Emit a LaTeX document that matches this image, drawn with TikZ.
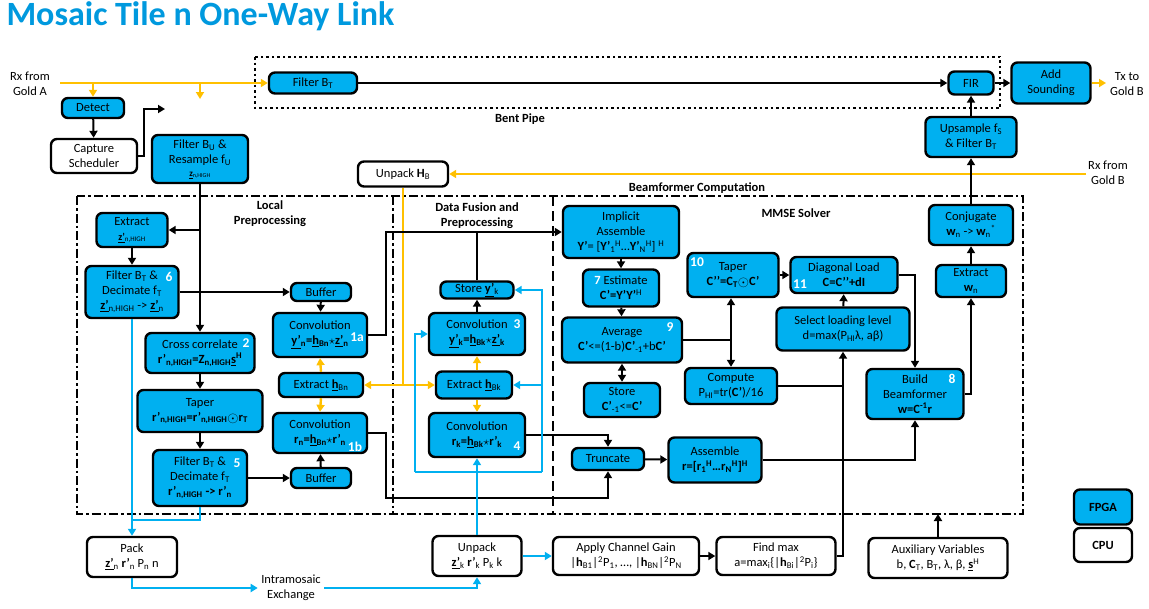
\documentclass[tikz,border=0pt]{standalone}
\usepackage{fontspec}
\setmainfont{Carlito}
\usetikzlibrary{arrows.meta}
\definecolor{fpgablue}{RGB}{0,176,240}
\definecolor{goldline}{RGB}{255,192,0}
\definecolor{titleblue}{RGB}{0,153,222}
\newcommand{\dsub}[1]{\textsubscript{#1}}
\newcommand{\usup}[1]{\textsuperscript{#1}}
\newcommand{\ubf}[1]{\underline{\textbf{#1}}}
\newcommand{\hadam}{\smash{\raisebox{-1pt}{\fontsize{15}{15}\selectfont$\odot$}}}

\begin{document}
\begin{tikzpicture}[x=1pt,y=-1pt,
  every node/.style={font=\fontsize{12.5}{15}\selectfont},
  box/.style={draw, line width=2.4pt, rounded corners=6pt, align=center, inner sep=0pt},
  fpga/.style={box, fill=fpgablue},
  cpu/.style={box, fill=white},
  sz/.style 2 args={minimum width=#1pt, minimum height=#2pt},
  tip/.style={-{Triangle[length=7pt,width=8pt]}},
  conn/.style={line width=2pt, tip},
  wire/.style={line width=2pt},
  yconn/.style={line width=2.4pt, goldline, tip},
  ywire/.style={line width=2.4pt, goldline},
  bconn/.style={line width=2.4pt, fpgablue, tip},
  bwire/.style={line width=2.4pt, fpgablue},
  num/.style={text=white, font=\fontsize{13.5}{14}\selectfont\bfseries},
  grp/.style={font=\fontsize{12.5}{15}\selectfont\bfseries, align=center},
  dashdot/.style={line width=2.5pt, dash pattern=on 9pt off 3pt on 2.5pt off 3pt},
]
\useasboundingbox (0,0) rectangle (1149,608);

% title
\node[anchor=west, text=titleblue, font=\fontsize{34}{36}\selectfont\bfseries] (title) at (3,16) {Mosaic Tile n One-Way Link};

% group frames
\draw[line width=2.5pt, dash pattern=on 2.5pt off 3pt] (255,57) rectangle (1000,108);
\node[grp] (bentlbl) at (520,119) {Bent Pipe};
\draw[dashdot] (77,196) rectangle (1023,514);
\draw[dashdot] (393,196) -- (393,514);
\draw[line width=2.5pt, dash pattern=on 10pt off 5pt] (553,196) -- (553,514);
\node[grp] (locallbl) at (270,214) {Local\\Preprocessing};
\node[grp] (fusionlbl) at (477,216) {Data Fusion and\\Preprocessing};
\node[grp] (bfclbl) at (697,188) {Beamformer Computation};
\node[grp] (mmselbl) at (796,213) {MMSE Solver};

% free text
\node[align=center] (rxa) at (30,84) {Rx from\\Gold A};
\node[align=center] (txb) at (1127,84) {Tx to\\Gold B};
\node[align=center] (rxb) at (1108,173) {Rx from\\Gold B};

% front end and bent pipe
\node[fpga, sz={62}{20}] (detect) at (93,108) {Detect};
\node[cpu, sz={86}{34}] (capture) at (94,156) {Capture\\Scheduler};
\node[fpga, sz={96}{48}] (filtbu) at (200,159) {Filter B\dsub{U} \&\\Resample f\dsub{U}\\[-2pt]{\fontsize{9}{10}\selectfont\ubf{z}\dsub{n,HIGH}}};
\node[fpga, sz={88}{21}] (filtbt) at (313,83) {Filter B\dsub{T}};
\node[fpga, sz={45}{23}] (fir) at (971,83) {FIR};
\node[fpga, sz={79}{41}] (addsnd) at (1051,83) {Add\\Sounding};
\node[fpga, sz={91}{40}] (upsample) at (971,137) {Upsample f\dsub{S}\\\& Filter B\dsub{T}};
\node[cpu, sz={90}{25}] (unpackhb) at (403,174) {Unpack \textbf{H}\dsub{B}};

% local preprocessing
\node[fpga, sz={71}{34}] (extractz) at (132,230) {Extract\\{\fontsize{10}{11}\selectfont\ubf{z’}\dsub{n,HIGH}}};
\node[fpga, sz={93}{52}] (filt6) at (132,292) {Filter B\dsub{T} \&\\Decimate f\dsub{T}\\\ubf{z’}\dsub{n,HIGH} -> \ubf{z’}\dsub{n}};
\node[fpga, sz={60}{18}] (buf1) at (321,292) {Buffer};
\node[fpga, sz={94}{44}] (conv1a) at (320,335) {Convolution\\\textbf{\underline{y’}\dsub{n}=\underline{h}\dsub{Bn}$\star$\underline{z’}\dsub{n}}};
\node[fpga, sz={109}{40}] (cross) at (200,353) {Cross correlate\\\textbf{r’\dsub{n,HIGH}=Z\dsub{n,HIGH}\underline{s}\usup{H}}};
\node[fpga, sz={84}{24}] (exthbn) at (321,385) {Extract \ubf{h}\dsub{Bn}};
\node[fpga, sz={125}{42}] (taper1) at (200,411) {Taper\\\textbf{r’\dsub{n,HIGH}=r’\dsub{n,HIGH}}\hadam\textbf{r\dsub{T}}};
\node[fpga, sz={94}{40}] (conv1b) at (320,433) {Convolution\\\textbf{r\dsub{n}=\underline{h}\dsub{Bn}$\star$r’\dsub{n}}};
\node[fpga, sz={94}{56}] (filt5) at (200,478) {Filter B\dsub{T} \&\\Decimate f\dsub{T}\\\textbf{r’\dsub{n,HIGH} -> r’\dsub{n}}};
\node[fpga, sz={60}{20}] (buf2) at (321,478) {Buffer};

% data fusion
\node[fpga, sz={73}{17}] (storey) at (477,290) {Store \ubf{y’}\dsub{k}};
\node[fpga, sz={96}{42}] (conv3) at (477,334) {Convolution\\\textbf{\underline{y’}\dsub{k}=\underline{h}\dsub{Bk}$\star$\underline{z’}\dsub{k}}};
\node[fpga, sz={76}{27}] (exthbk) at (474,385) {Extract \ubf{h}\dsub{Bk}};
\node[fpga, sz={96}{44}] (conv4) at (477,435) {Convolution\\\textbf{r\dsub{k}=\underline{h}\dsub{Bk}$\star$r’\dsub{k}}};

% beamformer computation
\node[fpga, sz={116}{52}] (implicit) at (621,232) {Implicit\\Assemble\\\textbf{Y’}= [\textbf{Y’}\dsub{1}\usup{H}…\textbf{Y’}\dsub{N}\usup{H}] \usup{H}};
\node[fpga, sz={76}{37}] (estimate) at (621,288) {\textcolor{white}{\textbf{7}} Estimate\\\textbf{C’=Y’Y’}\usup{H}};
\node[fpga, sz={120}{45}] (average) at (622,340) {Average\\\textbf{C’}<=(1-b)\textbf{C’}\dsub{-1}+b\textbf{C’}};
\node[fpga, sz={76}{34}] (storec) at (622,400) {Store\\\textbf{C’}\dsub{-1}<=\textbf{C’}};
\node[fpga, sz={91}{44}] (taper2) at (733,275) {Taper\\\textbf{C’’=C\dsub{T}}\hadam\textbf{C’}};
\node[fpga, sz={92}{36}] (compute) at (731,386) {Compute\\P\dsub{HI}=tr(\textbf{C’})/16};
\node[fpga, sz={107}{36}] (diag) at (844,275) {Diagonal Load\\\textbf{C=C’’+dI}};
\node[fpga, sz={133}{43}] (select) at (843,329) {Select loading level\\d=max(P\dsub{HI}λ, aβ)};
\node[fpga, sz={97}{50}] (build) at (915,394) {Build\\Beamformer\\\textbf{w=C\usup{-1}r}};
\node[fpga, sz={70}{32}] (extw) at (971,281) {Extract\\\textbf{w}\dsub{n}};
\node[fpga, sz={84}{40}] (conj) at (971,225) {Conjugate\\\textbf{w}\dsub{n} -> \textbf{w}\dsub{n}\usup{*}};
\node[fpga, sz={72}{22}] (truncate) at (608,459) {Truncate};
\node[fpga, sz={93}{45}] (assemble) at (715,460) {Assemble\\\textbf{r=[r\dsub{1}\usup{H}…r\dsub{N}\usup{H}]\usup{H}}};

% CPU side
\node[cpu, sz={90}{40}] (pack) at (132,557) {Pack\\\ubf{z’}\dsub{n} \textbf{r’}\dsub{n} P\dsub{n} n};
\node[cpu, sz={89}{40}] (unpack) at (477,556) {Unpack\\\ubf{z’}\dsub{k} \textbf{r’}\dsub{k} P\dsub{k} k};
\node[cpu, sz={146}{38}] (applygain) at (626,556) {Apply Channel Gain\\|\textbf{h}\dsub{B1}|\usup{2}P\dsub{1}, …, |\textbf{h}\dsub{BN}|\usup{2}P\dsub{N}};
\node[cpu, sz={119}{38}] (findmax) at (776,556) {Find max\\a=max\dsub{i}\{|\textbf{h}\dsub{Bi}|\usup{2}P\dsub{i}\}};
\node[cpu, sz={139}{40}] (aux) at (938,558) {Auxiliary Variables\\b, \textbf{C}\dsub{T}, B\dsub{T}, λ, β, \ubf{s}\usup{H}};
\node[align=center] (xch) at (291,588) {Intramosaic\\Exchange};

% legend
\node[fpga, sz={58}{35}, font=\fontsize{12.5}{14}\selectfont\bfseries] (legfpga) at (1103,507) {FPGA};
\node[cpu, sz={58}{34}, font=\fontsize{12.5}{14}\selectfont\bfseries] (legcpu) at (1103,545) {CPU};

% step numbers
\node[num] (n6) at (169,277) {6};
\node[num] (n2) at (246,343) {2};
\node[num] (n1a) at (357,337) {1a};
\node[num] (n5) at (237,463) {5};
\node[num] (n1b) at (355,447) {1b};
\node[num] (n3) at (517,324) {3};
\node[num] (n4) at (517,446) {4};
\node[num] (n9) at (670,327) {9};
\node[num] (n10) at (697,262) {10};
\node[num] (n11) at (800,284) {11};
\node[num] (n8) at (952,379) {8};

% gold signal paths
\coordinate (rxastart) at (60,83);
\coordinate (ydet) at (93,83);
\coordinate (yfree) at (200,83);
\coordinate (yfreeend) at (200,99);
\coordinate (txend) at (1106,83);
\coordinate (rxbstart) at (1086,174);
\coordinate (yjoin) at (403,385);
\draw[yconn] (rxastart) -- (filtbt.west);
\draw[yconn] (ydet) -- (detect.north);
\draw[yconn] (yfree) -- (yfreeend);
\draw[yconn] (addsnd.east) -- (txend);
\draw[yconn] (rxbstart) -- (unpackhb.east);
\draw[ywire] (unpackhb.south) -- (yjoin);
\draw[yconn] (yjoin) -- (exthbn.east);
\draw[yconn] (yjoin) -- (exthbk.west);
\draw[yconn] (exthbn.north) -- (conv1a.south);
\draw[yconn] (exthbn.south) -- (conv1b.north);
\draw[yconn] (exthbk.north -| conv3.south) -- (conv3.south);
\draw[yconn] (exthbk.south -| conv4.north) -- (conv4.north);

% black data paths
\coordinate (capend) at (165,109);
\draw[conn] (detect) -- (capture);
\draw[conn] (capture.east) -- ++(6,0) |- (capend);
\draw[conn] (filtbt.east) -- (fir.west);
\draw[conn] (fir.east) -- (addsnd.west);
\draw[conn] (upsample.north) -- (fir.south);
\draw[conn] (conj.north) -- (upsample.south);
\draw[conn] (filtbu.south) -- (cross.north);
\draw[conn] (extractz.east -| filtbu.south) -- (extractz.east);
\draw[conn] (extractz) -- (filt6);
\draw[conn] (filt6.east) -- (buf1.west);
\draw[conn] (buf1) -- (conv1a);
\draw[conn] (conv1a.east) -- ++(18,0) |- (implicit.west);
\draw[wire] (storey.north) -- (storey.north |- implicit.west);
\draw[conn] (conv3) -- (storey);
\draw[conn] (cross) -- (taper1);
\draw[conn] (taper1) -- (filt5);
\draw[conn] (filt5.east) -- (buf2.west);
\draw[conn] (buf2) -- (conv1b);
\draw[conn] (conv1b.east) -- ++(18,0) -- ++(0,65) -| (truncate.south);
\draw[conn] (conv4.east) -| (truncate.north);
\draw[conn] (truncate) -- (assemble);
\draw[conn] (assemble.east) -| (build.south);
\draw[conn] (implicit) -- (estimate);
\draw[conn] (estimate) -- (average);
\draw[line width=2pt, {Triangle[length=7pt,width=8pt]}-{Triangle[length=7pt,width=8pt]}] (average) -- (storec);
\coordinate (avgjoin) at (average.east -| compute.north);
\draw[wire] (average.east) -- (avgjoin);
\draw[conn] (avgjoin) -- (avgjoin |- taper2.south);
\draw[conn] (avgjoin) -- (compute.north);
\draw[conn] (taper2.east) -- (diag.west);
\draw[conn] (select) -- (diag);
\draw[conn] (diag.east) -| (build.north);
\draw[conn] (build.east) -| (extw.south);
\draw[conn] (extw) -- (conj);
\draw[conn] (findmax.east) -| (select.south);
\draw[wire] (compute.east) -- (compute.east -| select.south);
\coordinate (auxend) at (938,514);
\draw[conn] (aux.north) -- (auxend);
\draw[conn] (applygain) -- (findmax);

% light-blue exchange paths
\coordinate (bjoin) at (132,520);
\coordinate (bl1) at (415,472);
\coordinate (br1) at (542,472);
\draw[bconn] (filt6.south) -- (pack.north);
\draw[bwire] (filt5.south) |- (bjoin);
\draw[bconn] (pack.south) |- (xch.west);
\draw[bconn] (xch.east) -| (unpack.south);
\draw[bconn] (unpack.east) -- (applygain.west);
\draw[bconn] (unpack.north) -- (conv4.south);
\draw[bwire] (bl1) -- (br1);
\draw[bconn] (bl1) |- (conv3.west);
\draw[bconn] (br1) |- (storey.east);
\draw[bconn] (br1 |- exthbk.east) -- (exthbk.east);
\end{tikzpicture}
\end{document}
